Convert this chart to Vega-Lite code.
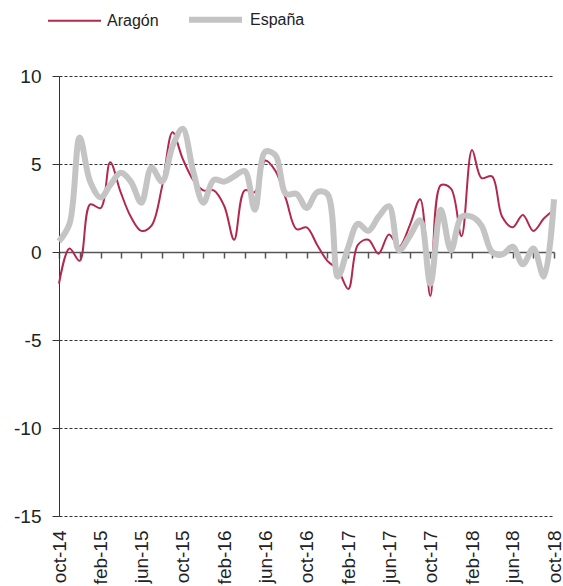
{
  "$schema": "https://vega.github.io/schema/vega-lite/v6.json",
  "autosize": {"type": "none"},
  "padding": {"left": 59, "top": 76, "right": 9, "bottom": 70},
  "width": 495,
  "height": 440,
  "background": "white",
  "config": {
    "font": "Liberation Sans",
    "view": {"stroke": null},
    "axis": {"labelFont": "Liberation Sans", "labelColor": "#222222", "titleFont": "Liberation Sans"}
  },
  "data": {
    "values": [
      {"date": "2014-10-01", "serie": "Aragón", "valor": -1.8},
      {"date": "2014-11-01", "serie": "Aragón", "valor": 0.2},
      {"date": "2014-12-01", "serie": "Aragón", "valor": -0.5},
      {"date": "2015-01-01", "serie": "Aragón", "valor": 2.7},
      {"date": "2015-02-01", "serie": "Aragón", "valor": 2.5},
      {"date": "2015-03-01", "serie": "Aragón", "valor": 5.1},
      {"date": "2015-04-01", "serie": "Aragón", "valor": 3.4},
      {"date": "2015-05-01", "serie": "Aragón", "valor": 2.0},
      {"date": "2015-06-01", "serie": "Aragón", "valor": 1.2},
      {"date": "2015-07-01", "serie": "Aragón", "valor": 1.5},
      {"date": "2015-08-01", "serie": "Aragón", "valor": 3.7},
      {"date": "2015-09-01", "serie": "Aragón", "valor": 6.8},
      {"date": "2015-10-01", "serie": "Aragón", "valor": 5.3},
      {"date": "2015-11-01", "serie": "Aragón", "valor": 4.1},
      {"date": "2015-12-01", "serie": "Aragón", "valor": 3.5},
      {"date": "2016-01-01", "serie": "Aragón", "valor": 3.5},
      {"date": "2016-02-01", "serie": "Aragón", "valor": 2.6},
      {"date": "2016-03-01", "serie": "Aragón", "valor": 0.7},
      {"date": "2016-04-01", "serie": "Aragón", "valor": 3.5},
      {"date": "2016-05-01", "serie": "Aragón", "valor": 3.4},
      {"date": "2016-06-01", "serie": "Aragón", "valor": 5.2},
      {"date": "2016-07-01", "serie": "Aragón", "valor": 4.6},
      {"date": "2016-08-01", "serie": "Aragón", "valor": 3.0},
      {"date": "2016-09-01", "serie": "Aragón", "valor": 1.3},
      {"date": "2016-10-01", "serie": "Aragón", "valor": 1.4},
      {"date": "2016-11-01", "serie": "Aragón", "valor": 0.4},
      {"date": "2016-12-01", "serie": "Aragón", "valor": -0.5},
      {"date": "2017-01-01", "serie": "Aragón", "valor": -1.0},
      {"date": "2017-02-01", "serie": "Aragón", "valor": -2.1},
      {"date": "2017-03-01", "serie": "Aragón", "valor": 0.4},
      {"date": "2017-04-01", "serie": "Aragón", "valor": 0.7},
      {"date": "2017-05-01", "serie": "Aragón", "valor": -0.1},
      {"date": "2017-06-01", "serie": "Aragón", "valor": 1.0},
      {"date": "2017-07-01", "serie": "Aragón", "valor": 0.3},
      {"date": "2017-08-01", "serie": "Aragón", "valor": 1.5},
      {"date": "2017-09-01", "serie": "Aragón", "valor": 3.0},
      {"date": "2017-10-01", "serie": "Aragón", "valor": -2.5},
      {"date": "2017-11-01", "serie": "Aragón", "valor": 3.8},
      {"date": "2017-12-01", "serie": "Aragón", "valor": 3.6},
      {"date": "2018-01-01", "serie": "Aragón", "valor": 0.9},
      {"date": "2018-02-01", "serie": "Aragón", "valor": 5.8},
      {"date": "2018-03-01", "serie": "Aragón", "valor": 4.2},
      {"date": "2018-04-01", "serie": "Aragón", "valor": 4.3},
      {"date": "2018-05-01", "serie": "Aragón", "valor": 2.0},
      {"date": "2018-06-01", "serie": "Aragón", "valor": 1.4},
      {"date": "2018-07-01", "serie": "Aragón", "valor": 2.1},
      {"date": "2018-08-01", "serie": "Aragón", "valor": 1.2},
      {"date": "2018-09-01", "serie": "Aragón", "valor": 1.9},
      {"date": "2018-10-01", "serie": "Aragón", "valor": 2.4},
      {"date": "2014-10-01", "serie": "España", "valor": 0.6},
      {"date": "2014-11-01", "serie": "España", "valor": 1.6},
      {"date": "2014-12-01", "serie": "España", "valor": 6.5},
      {"date": "2015-01-01", "serie": "España", "valor": 4.0},
      {"date": "2015-02-01", "serie": "España", "valor": 3.1},
      {"date": "2015-03-01", "serie": "España", "valor": 3.8},
      {"date": "2015-04-01", "serie": "España", "valor": 4.5},
      {"date": "2015-05-01", "serie": "España", "valor": 4.0},
      {"date": "2015-06-01", "serie": "España", "valor": 2.8},
      {"date": "2015-07-01", "serie": "España", "valor": 4.8},
      {"date": "2015-08-01", "serie": "España", "valor": 4.0},
      {"date": "2015-09-01", "serie": "España", "valor": 6.0},
      {"date": "2015-10-01", "serie": "España", "valor": 7.0},
      {"date": "2015-11-01", "serie": "España", "valor": 4.6},
      {"date": "2015-12-01", "serie": "España", "valor": 2.8},
      {"date": "2016-01-01", "serie": "España", "valor": 4.1},
      {"date": "2016-02-01", "serie": "España", "valor": 4.0},
      {"date": "2016-03-01", "serie": "España", "valor": 4.3},
      {"date": "2016-04-01", "serie": "España", "valor": 4.6},
      {"date": "2016-05-01", "serie": "España", "valor": 2.4},
      {"date": "2016-06-01", "serie": "España", "valor": 5.7},
      {"date": "2016-07-01", "serie": "España", "valor": 5.5},
      {"date": "2016-08-01", "serie": "España", "valor": 3.3},
      {"date": "2016-09-01", "serie": "España", "valor": 3.3},
      {"date": "2016-10-01", "serie": "España", "valor": 2.5},
      {"date": "2016-11-01", "serie": "España", "valor": 3.4},
      {"date": "2016-12-01", "serie": "España", "valor": 3.3},
      {"date": "2017-01-01", "serie": "España", "valor": -1.4},
      {"date": "2017-02-01", "serie": "España", "valor": 0.3},
      {"date": "2017-03-01", "serie": "España", "valor": 1.6},
      {"date": "2017-04-01", "serie": "España", "valor": 1.2},
      {"date": "2017-05-01", "serie": "España", "valor": 2.0},
      {"date": "2017-06-01", "serie": "España", "valor": 2.6},
      {"date": "2017-07-01", "serie": "España", "valor": 0.1},
      {"date": "2017-08-01", "serie": "España", "valor": 0.9},
      {"date": "2017-09-01", "serie": "España", "valor": 1.8},
      {"date": "2017-10-01", "serie": "España", "valor": -1.8},
      {"date": "2017-11-01", "serie": "España", "valor": 2.4},
      {"date": "2017-12-01", "serie": "España", "valor": 0.1},
      {"date": "2018-01-01", "serie": "España", "valor": 2.0},
      {"date": "2018-02-01", "serie": "España", "valor": 2.0},
      {"date": "2018-03-01", "serie": "España", "valor": 1.5},
      {"date": "2018-04-01", "serie": "España", "valor": 0.0},
      {"date": "2018-05-01", "serie": "España", "valor": -0.15},
      {"date": "2018-06-01", "serie": "España", "valor": 0.3},
      {"date": "2018-07-01", "serie": "España", "valor": -0.7},
      {"date": "2018-08-01", "serie": "España", "valor": 0.2},
      {"date": "2018-09-01", "serie": "España", "valor": -1.4},
      {"date": "2018-10-01", "serie": "España", "valor": 3.0}
    ]
  },
  "layer": [
    {
      "mark": {"type": "line", "opacity": 0},
      "encoding": {
        "x": {
          "field": "date", "type": "temporal",
          "scale": {"type": "utc", "domain": [{"year": 2014, "month": 10, "date": 1, "utc": true}, {"year": 2018, "month": 10, "date": 1, "utc": true}], "nice": false},
          "axis": {
            "orient": "bottom",
            "title": null, "labels": false, "grid": false, "offset": -264,
            "domain": true, "domainColor": "#555555", "domainWidth": 1.5,
            "ticks": true, "tickColor": "#555555", "tickWidth": 1.5, "tickSize": 6,
            "values": [
              {"year": 2014, "month": 10, "date": 1, "utc": true}, {"year": 2014, "month": 12, "date": 1, "utc": true},
              {"year": 2015, "month": 2, "date": 1, "utc": true}, {"year": 2015, "month": 4, "date": 1, "utc": true},
              {"year": 2015, "month": 6, "date": 1, "utc": true}, {"year": 2015, "month": 8, "date": 1, "utc": true},
              {"year": 2015, "month": 10, "date": 1, "utc": true}, {"year": 2015, "month": 12, "date": 1, "utc": true},
              {"year": 2016, "month": 2, "date": 1, "utc": true}, {"year": 2016, "month": 4, "date": 1, "utc": true},
              {"year": 2016, "month": 6, "date": 1, "utc": true}, {"year": 2016, "month": 8, "date": 1, "utc": true},
              {"year": 2016, "month": 10, "date": 1, "utc": true}, {"year": 2016, "month": 12, "date": 1, "utc": true},
              {"year": 2017, "month": 2, "date": 1, "utc": true}, {"year": 2017, "month": 4, "date": 1, "utc": true},
              {"year": 2017, "month": 6, "date": 1, "utc": true}, {"year": 2017, "month": 8, "date": 1, "utc": true},
              {"year": 2017, "month": 10, "date": 1, "utc": true}, {"year": 2017, "month": 12, "date": 1, "utc": true},
              {"year": 2018, "month": 2, "date": 1, "utc": true}, {"year": 2018, "month": 4, "date": 1, "utc": true},
              {"year": 2018, "month": 6, "date": 1, "utc": true}, {"year": 2018, "month": 8, "date": 1, "utc": true},
              {"year": 2018, "month": 10, "date": 1, "utc": true}
            ]
          }
        },
        "y": {
          "field": "valor", "type": "quantitative",
          "scale": {"domain": [-15, 10], "nice": false},
          "axis": {
            "orient": "left",
            "title": null, "values": [-15, -10, -5, 0, 5, 10],
            "labelExpr": "replace(datum.label, '−', '-')",
            "grid": true, "gridColor": "#333333", "gridDash": [3, 2], "gridWidth": 1,
            "domain": true, "domainColor": "#333333", "domainWidth": 1,
            "ticks": true, "tickColor": "#333333", "tickSize": 7,
            "labelFontSize": 19, "labelPadding": 11
          }
        },
        "detail": {"field": "serie"}
      }
    },
    {
      "mark": {"type": "line", "interpolate": "catmull-rom"},
      "encoding": {
        "x": {
          "field": "date", "type": "temporal",
          "axis": {
            "orient": "bottom",
            "title": null, "grid": false, "domain": false, "ticks": false, "tickSize": 0,
            "labelAngle": 270, "labelFontSize": 19, "labelPadding": 14, "labelFlush": false, "labelOverlap": false,
            "labelExpr": "lower(utcFormat(datum.value, '%b-%y'))",
            "values": [
              {"year": 2014, "month": 10, "date": 1, "utc": true}, {"year": 2015, "month": 2, "date": 1, "utc": true},
              {"year": 2015, "month": 6, "date": 1, "utc": true}, {"year": 2015, "month": 10, "date": 1, "utc": true},
              {"year": 2016, "month": 2, "date": 1, "utc": true}, {"year": 2016, "month": 6, "date": 1, "utc": true},
              {"year": 2016, "month": 10, "date": 1, "utc": true}, {"year": 2017, "month": 2, "date": 1, "utc": true},
              {"year": 2017, "month": 6, "date": 1, "utc": true}, {"year": 2017, "month": 10, "date": 1, "utc": true},
              {"year": 2018, "month": 2, "date": 1, "utc": true}, {"year": 2018, "month": 6, "date": 1, "utc": true},
              {"year": 2018, "month": 10, "date": 1, "utc": true}
            ]
          }
        },
        "y": {
          "field": "valor", "type": "quantitative",
          "axis": {
            "orient": "left",
            "title": null, "values": [-15, -10, -5, 0, 5, 10],
            "labelExpr": "replace(datum.label, '−', '-')",
            "grid": true, "gridColor": "#333333", "gridDash": [3, 2], "gridWidth": 1,
            "domain": true, "domainColor": "#333333", "domainWidth": 1,
            "ticks": true, "tickColor": "#333333", "tickSize": 7,
            "labelFontSize": 19, "labelPadding": 11
          }
        },
        "color": {
          "field": "serie", "type": "nominal",
          "scale": {"domain": ["Aragón", "España"], "range": ["#B3294E", "#C4C4C4"]},
          "legend": {
            "title": null, "orient": "none", "legendX": -12, "legendY": -86,
            "direction": "horizontal", "symbolType": "stroke", "symbolSize": 2809,
            "labelFontSize": 16, "labelColor": "#222222", "labelOffset": 5, "columnPadding": 18, "padding": 0
          }
        },
        "strokeWidth": {
          "field": "serie", "type": "nominal",
          "scale": {"domain": ["Aragón", "España"], "range": [2, 6]},
          "legend": {
            "title": null, "orient": "none", "legendX": -12, "legendY": -86,
            "direction": "horizontal", "symbolType": "stroke", "symbolSize": 2809,
            "labelFontSize": 16, "labelColor": "#222222", "labelOffset": 5, "columnPadding": 18, "padding": 0
          }
        }
      }
    }
  ],
  "resolve": {"axis": {"x": "independent"}}
}
